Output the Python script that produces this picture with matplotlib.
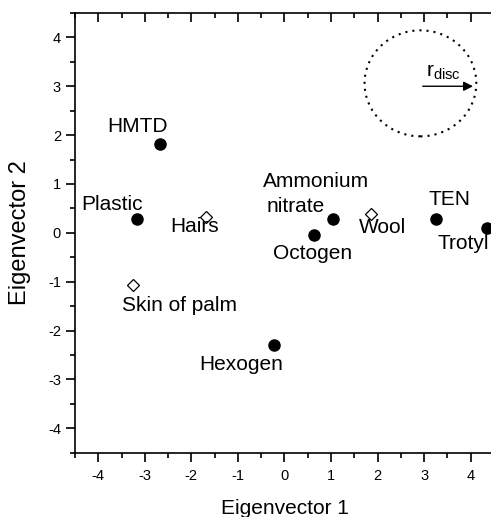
import matplotlib.pyplot as plt
from matplotlib.patches import Ellipse
from matplotlib.ticker import MultipleLocator

plt.rcParams['font.family'] = ['Liberation Sans', 'DejaVu Sans']
plt.rcParams['axes.unicode_minus'] = False

# explosives (filled circles)
expl_names = ['HMTD', 'Plastic', 'Ammonium nitrate', 'Octogen', 'TEN', 'Trotyl', 'Hexogen']
expl_x = [-2.68, -3.17, 1.04, 0.63, 3.26, 4.35, -0.23]
expl_y = [1.82, 0.29, 0.29, -0.05, 0.29, 0.10, -2.30]

# background materials (open diamonds)
bg_names = ['Hairs', 'Wool', 'Skin of palm']
bg_x = [-1.69, 1.86, -3.25]
bg_y = [0.32, 0.39, -1.07]

# label positions (data coords, baseline)
lab_pos = {
    'HMTD': (-3.16, 2.06),
    'Plastic': (-3.70, 0.46),
    'Ammonium': (0.67, 0.94),
    'nitrate': (0.24, 0.43),
    'Octogen': (0.60, -0.54),
    'TEN': (3.54, 0.56),
    'Trotyl': (3.85, -0.34),
    'Hexogen': (-0.92, -2.80),
    'Hairs': (-1.93, 0.01),
    'Wool': (2.11, -0.01),
    'Skin of palm': (-2.25, -1.60),
}

fig = plt.figure(figsize=(4.91, 5.17), dpi=100)
ax = fig.add_axes([0.1527, 0.1244, 0.8534, 0.8505])

ax.plot(expl_x, expl_y, 'o', color='black', markersize=8, clip_on=False)
ax.plot(bg_x, bg_y, 'D', markerfacecolor='white', markeredgecolor='black',
        markersize=6, markeredgewidth=0.9, clip_on=False)

for name, (tx, ty) in lab_pos.items():
    ax.text(tx, ty, name, fontsize=15, ha='center', va='baseline')

# disc radius
ax.add_patch(Ellipse((2.92, 3.06), 2.40, 2.17, fill=False, linestyle=(0, (1, 2.4)),
                     linewidth=1.5, edgecolor='black'))
ax.annotate('', xy=(4.05, 3.0), xytext=(2.97, 3.0),
            arrowprops=dict(arrowstyle='-|>', color='black', lw=1.0,
                            mutation_scale=14, shrinkA=0, shrinkB=0))
ax.text(3.05, 3.08, r'$\mathregular{r_{disc}}$', fontsize=15, ha='left', va='bottom')

ax.set_xlim(-4.5, 4.5)
ax.set_ylim(-4.5, 4.5)
ax.xaxis.set_major_locator(MultipleLocator(1))
ax.xaxis.set_minor_locator(MultipleLocator(0.5))
ax.yaxis.set_major_locator(MultipleLocator(1))
ax.yaxis.set_minor_locator(MultipleLocator(0.5))

ax.tick_params(which='both', direction='out', labelsize=10.5, width=1.2)
ax.tick_params(which='major', length=6.5)
ax.tick_params(which='minor', length=3.4)
ax.tick_params(top=True, which='both')
ax.tick_params(axis='x', which='major', pad=5)
for spine in ax.spines.values():
    spine.set_linewidth(1.2)
# top ticks point inward
for t in ax.xaxis.get_major_ticks() + ax.xaxis.get_minor_ticks():
    t.tick2line.set_marker(3)  # TICKDOWN

ax.set_xlabel('Eigenvector 1', fontsize=15, labelpad=12)
ax.set_ylabel('Eigenvector 2', fontsize=17, labelpad=12)

fig.savefig('out.png', dpi=100)
